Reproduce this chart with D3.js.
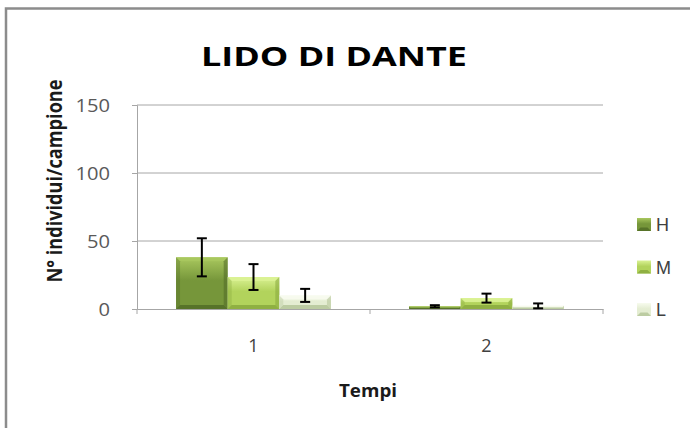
<!DOCTYPE html>
<html><head><meta charset="utf-8">
<script src="https://cdn.jsdelivr.net/npm/d3@7"></script>
<style>body{margin:0;background:#fff}svg{display:block}</style>
</head><body>
<svg id="c" width="690" height="428"></svg>
<script>
const categories = ["1", "2"];
const seriesNames = ["H", "M", "L"];
const valuesH = [38, 2];
const valuesM = [23.5, 8];
const valuesL = [10, 2.3];
const errH = [14, 0.8];
const errM = [9.5, 3.3];
const errL = [4.8, 1.8];
const yTicks = [0, 50, 100, 150];

const series = [
  {name: "H", values: valuesH, err: errH, face: "#76963a", light: "#a9c85e", dark: "#506a26"},
  {name: "M", values: valuesM, err: errM, face: "#b2d35c", light: "#daf294", dark: "#86a83c"},
  {name: "L", values: valuesL, err: errL, face: "#e4edd2", light: "#f7fbee", dark: "#b2c396"}
];

const svg = d3.select("#c");
const defs = svg.append("defs");
series.forEach((s, i) => {
  const g = defs.append("linearGradient").attr("id", "g" + i).attr("x1", 0).attr("y1", 0).attr("x2", 0).attr("y2", 1);
  g.append("stop").attr("offset", "0%").attr("stop-color", s.light);
  g.append("stop").attr("offset", "45%").attr("stop-color", s.face);
  g.append("stop").attr("offset", "100%").attr("stop-color", s.face);
});

// outer border (top & left visible)
svg.append("path").attr("d", "M6,428 V8.5 H690").attr("fill", "none").attr("stroke", "#8c8c8c").attr("stroke-width", 2.5);

const pLeft = 137, pRight = 603, pTop = 105, pBottom = 309;
const x0 = d3.scaleBand().domain(categories).range([pLeft, pRight]);
const y = d3.scaleLinear().domain([0, 150]).range([pBottom, pTop]);
const x1 = d3.scaleBand().domain(seriesNames).range([0, x0.bandwidth() * 0.665]);
const groupOff = (x0.bandwidth() - x1.range()[1]) / 2;

// gridlines
svg.append("g").selectAll("line").data(yTicks.filter(t => t > 0)).join("line")
  .attr("x1", pLeft).attr("x2", pRight).attr("y1", d => y(d)).attr("y2", d => y(d))
  .attr("stroke", "#a6a6a6").attr("stroke-width", 1);

// y axis
const ya = svg.append("g").attr("transform", `translate(${pLeft},0)`)
  .call(d3.axisLeft(y).tickValues(yTicks).tickSize(5).tickPadding(22));
ya.attr("font-size", null).attr("font-family", null);
ya.select(".domain").attr("stroke", "#a6a6a6");
ya.selectAll(".tick line").attr("stroke", "#a6a6a6");
ya.selectAll("text").style("font-family", "'Open Sans', sans-serif").style("font-size", "18px").attr("fill", "#595959")
  .attr("text-anchor", "end").attr("dy", "0.36em")
  .attr("textLength", d => String(d).length * 11.5).attr("lengthAdjust", "spacingAndGlyphs");

// bars
series.forEach((s, i) => {
  const g = svg.append("g");
  categories.forEach((c, j) => {
    const bx = x0(c) + groupOff + x1(s.name);
    const bw = x1.bandwidth();
    const by = y(s.values[j]);
    const bh = pBottom - by;
    g.append("rect").attr("x", bx).attr("y", by).attr("width", bw).attr("height", bh).attr("fill", `url(#g${i})`);
    const b = Math.min(4, bh / 2);
    g.append("path").attr("d", `M${bx},${by} H${bx + bw} L${bx + bw - b},${by + b} H${bx + b} Z`).attr("fill", s.light).attr("opacity", 0.9);
    g.append("path").attr("d", `M${bx},${by + bh} H${bx + bw} L${bx + bw - b},${by + bh - b} H${bx + b} Z`).attr("fill", s.dark).attr("opacity", 0.8);
    g.append("path").attr("d", `M${bx + bw},${by} V${by + bh} L${bx + bw - b},${by + bh - b} V${by + b} Z`).attr("fill", s.dark).attr("opacity", 0.55);
    g.append("path").attr("d", `M${bx},${by} V${by + bh} L${bx + b},${by + bh - b} V${by + b} Z`).attr("fill", s.dark).attr("opacity", 0.35);
  });
});

// x axis
const xa = svg.append("g").attr("transform", `translate(0,${pBottom})`)
  .call(d3.axisBottom(x0).tickSize(0).tickPadding(30));
xa.attr("font-size", null).attr("font-family", null);
xa.select(".domain").attr("stroke", "#a6a6a6");
xa.selectAll("text").style("font-family", "'Open Sans', sans-serif").style("font-size", "18px").attr("fill", "#404040");
svg.append("g").selectAll("line").data([pLeft, pLeft + x0.step(), pRight]).join("line")
  .attr("x1", d => d).attr("x2", d => d).attr("y1", pBottom).attr("y2", pBottom + 5).attr("stroke", "#a6a6a6");

// error bars
series.forEach((s) => {
  const g = svg.append("g").attr("stroke", "#000").attr("stroke-width", 2);
  categories.forEach((c, j) => {
    const cx = x0(c) + groupOff + x1(s.name) + x1.bandwidth() / 2;
    const hi = y(s.values[j] + s.err[j]), lo = y(Math.max(0, s.values[j] - s.err[j]));
    g.append("line").attr("x1", cx).attr("x2", cx).attr("y1", hi).attr("y2", lo);
    g.append("line").attr("x1", cx - 5).attr("x2", cx + 5).attr("y1", hi).attr("y2", hi);
    g.append("line").attr("x1", cx - 5).attr("x2", cx + 5).attr("y1", lo).attr("y2", lo);
  });
});

// title
svg.append("text").attr("x", 334).attr("y", 66).attr("text-anchor", "middle")
  .style("font-family", "'Open Sans', sans-serif").style("font-weight", "bold").style("font-size", "26.5px")
  .attr("textLength", 266).attr("lengthAdjust", "spacingAndGlyphs").text("LIDO DI DANTE");

// axis titles
svg.append("text").attr("x", 368).attr("y", 397).attr("text-anchor", "middle")
  .style("font-family", "'Open Sans', sans-serif").style("font-weight", "bold").style("font-size", "18px").attr("fill", "#1a1a1a")
  .attr("textLength", 58).attr("lengthAdjust", "spacingAndGlyphs").text("Tempi");
svg.append("text").attr("transform", "translate(62,181) scale(1.3,1) rotate(-90)").attr("text-anchor", "middle")
  .style("font-family", "'Open Sans', sans-serif").style("font-weight", "bold").style("font-size", "17px").attr("fill", "#1a1a1a")
  .attr("textLength", 203).attr("lengthAdjust", "spacingAndGlyphs").text("N° individui/campione");

// legend
const lg = svg.append("g");
series.forEach((s, i) => {
  const ly = 224.5 + i * 42.5;
  lg.append("rect").attr("x", 637).attr("y", ly - 6.5).attr("width", 14).attr("height", 13).attr("fill", `url(#g${i})`);
  lg.append("path").attr("d", `M637,${ly + 6.5} H651 L647.5,${ly + 3} H640.5 Z`).attr("fill", s.dark).attr("opacity", 0.8);
  lg.append("text").attr("x", 656).attr("y", ly + 6.5).style("font-family", "'Liberation Sans', Arial, sans-serif")
    .style("font-size", "18px").attr("fill", "#404040").text(s.name);
});
</script>
</body></html>
